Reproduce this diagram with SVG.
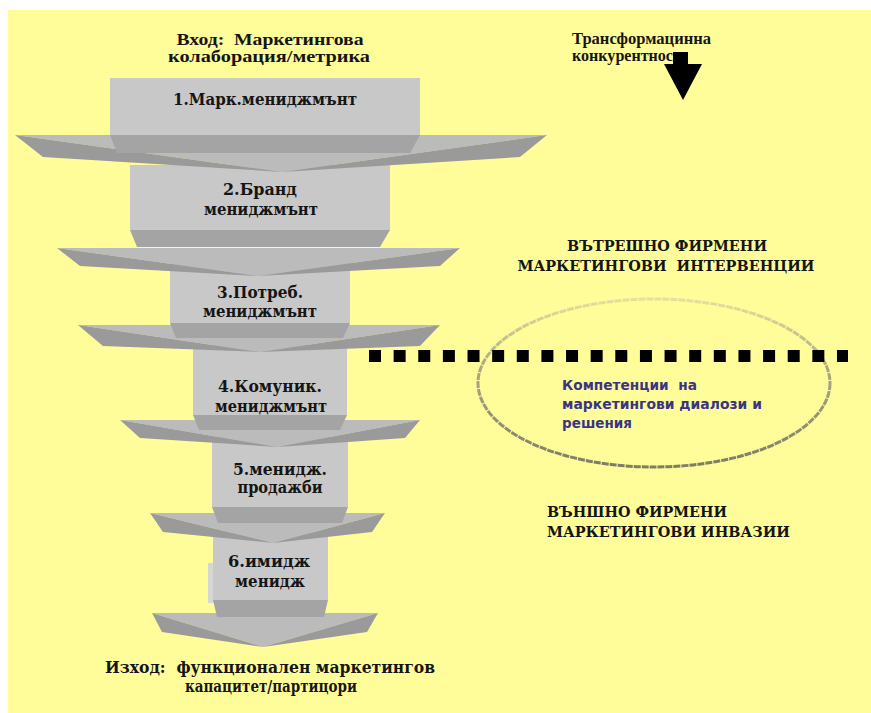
<svg xmlns="http://www.w3.org/2000/svg" width="871" height="713" viewBox="0 0 871 713">
<defs>
<style>
.box{fill:#C8C8C8}
.bev{fill:#A4A4A4}
.top{fill:#BBBBBB}
.front{fill:#9A9A9A}
.sliv{fill:#D6D6D6}
text{white-space:pre}
.lbl{font-family:"DejaVu Serif","Liberation Serif",serif;font-weight:bold;font-size:16px;fill:#151515;text-anchor:middle}
.io{font-family:"Liberation Serif","Times New Roman",serif;font-weight:bold;font-size:16px;fill:#151515;text-anchor:middle}
.zone{font-family:"DejaVu Serif","Liberation Serif",serif;font-weight:bold;font-size:15px;fill:#151515}
.comp{font-family:"DejaVu Sans","Liberation Sans",sans-serif;font-weight:bold;font-size:13.5px;fill:#3B3386}
</style>
<linearGradient id="ellg" x1="0" y1="0" x2="0" y2="1">
<stop offset="0" stop-color="#E6E09C"/>
<stop offset="0.4" stop-color="#ADA987"/>
<stop offset="1" stop-color="#7E7B66"/>
</linearGradient>
</defs>
<rect x="0" y="0" width="871" height="713" fill="#FFFFFF"/>
<rect x="8" y="10" width="863" height="703" fill="#FFFD99"/>

<g id="level6">
<polygon class="top" points="152,613 378,613 263,647"/>
<polygon class="front" points="152,613 162,632 263,647"/>
<polygon class="front" points="378,613 367,632 263,647"/>
<rect class="sliv" x="208" y="563" width="6" height="40"/>
<rect class="box" x="213" y="533" width="115" height="67"/>
<polygon class="bev" points="213,600 328,600 324,617 217,617"/>
<text class="lbl" x="269" y="567" textLength="82" lengthAdjust="spacingAndGlyphs">6.имидж</text>
<text class="lbl" x="270" y="587" textLength="70" lengthAdjust="spacingAndGlyphs">менидж</text>
</g>

<g id="level5">
<polygon class="top" points="150,513 385,513 273,543"/>
<polygon class="front" points="150,513 163,532 273,543"/>
<polygon class="front" points="385,513 372,532 273,543"/>
<rect class="box" x="212" y="437" width="136" height="70"/>
<polygon class="bev" points="212,507 348,507 342,523 218,523"/>
<text class="lbl" x="280" y="475" textLength="94" lengthAdjust="spacingAndGlyphs">5.менидж.</text>
<text class="lbl" x="280" y="493" textLength="85" lengthAdjust="spacingAndGlyphs">продажби</text>
</g>

<g id="level4">
<polygon class="top" points="120,420 420,420 277,447"/>
<polygon class="front" points="120,420 140,438 277,447"/>
<polygon class="front" points="420,420 405,438 277,447"/>
<rect class="box" x="193" y="345" width="154" height="70"/>
<polygon class="bev" points="193,415 347,415 340,430 199,430"/>
<text class="lbl" x="270" y="392" textLength="104" lengthAdjust="spacingAndGlyphs">4.Комуник.</text>
<text class="lbl" x="271" y="412" textLength="112" lengthAdjust="spacingAndGlyphs">мениджмънт</text>
</g>

<g id="level3">
<polygon class="top" points="78,325 440,325 260,352"/>
<polygon class="front" points="78,325 103,346 260,352"/>
<polygon class="front" points="440,325 420,346 260,352"/>
<rect class="box" x="170" y="262" width="180" height="61"/>
<polygon class="bev" points="170,323 350,323 343,338 176,338"/>
<text class="lbl" x="260" y="298" textLength="86" lengthAdjust="spacingAndGlyphs">3.Потреб.</text>
<text class="lbl" x="260" y="317" textLength="114" lengthAdjust="spacingAndGlyphs">мениджмънт</text>
</g>

<g id="level2">
<polygon class="top" points="57,248 460,248 258,276"/>
<polygon class="front" points="57,248 80,266 258,276"/>
<polygon class="front" points="460,248 440,266 258,276"/>
<rect class="box" x="130" y="165" width="260" height="65"/>
<polygon class="bev" points="130,230 390,230 380,247 137,247"/>
<text class="lbl" x="260" y="195" textLength="74" lengthAdjust="spacingAndGlyphs">2.Бранд</text>
<text class="lbl" x="261" y="215" textLength="114" lengthAdjust="spacingAndGlyphs">мениджмънт</text>
</g>

<g id="level1">
<polygon class="top" points="15,135 547,135 282,172"/>
<polygon class="front" points="15,135 43,157 282,172"/>
<polygon class="front" points="547,135 520,157 282,172"/>
<rect class="box" x="110" y="78" width="310" height="57"/>
<polygon class="bev" points="110,135 420,135 410,153 117,153"/>
<text class="lbl" x="265" y="105" textLength="184" lengthAdjust="spacingAndGlyphs">1.Марк.мениджмънт</text>
</g>

<g id="input">
<text class="io" x="270" y="45" textLength="187" lengthAdjust="spacingAndGlyphs" xml:space="preserve">Вход:  Маркетингова</text>
<text class="io" x="269" y="62" textLength="202" lengthAdjust="spacingAndGlyphs">колаборация/метрика</text>
</g>

<g id="output">
<text class="lbl" x="270" y="673" textLength="330" lengthAdjust="spacingAndGlyphs" xml:space="preserve">Изход:  функционален маркетингов</text>
<text class="lbl" x="271" y="692" textLength="172" lengthAdjust="spacingAndGlyphs">капацитет/партицори</text>
</g>

<g id="transformation">
<text class="io" x="572" y="44" style="text-anchor:start" textLength="139" lengthAdjust="spacingAndGlyphs">Трансформацинна</text>
<text class="io" x="572" y="61" style="text-anchor:start" textLength="101" lengthAdjust="spacingAndGlyphs">конкурентнос</text>
</g>

<g id="internal">
<text class="zone" x="667" y="251" style="text-anchor:middle" textLength="200" lengthAdjust="spacingAndGlyphs">ВЪТРЕШНО ФИРМЕНИ</text>
<text class="zone" x="666" y="271" style="text-anchor:middle" textLength="297" lengthAdjust="spacingAndGlyphs" xml:space="preserve">МАРКЕТИНГОВИ  ИНТЕРВЕНЦИИ</text>
</g>

<g id="external">
<text class="zone" x="547" y="517" textLength="180" lengthAdjust="spacingAndGlyphs">ВЪНШНО ФИРМЕНИ</text>
<text class="zone" x="547" y="537" textLength="243" lengthAdjust="spacingAndGlyphs">МАРКЕТИНГОВИ ИНВАЗИИ</text>
</g>

<g id="competences">
<ellipse cx="654" cy="383" rx="176" ry="84" fill="none" stroke="url(#ellg)" stroke-width="3" stroke-dasharray="7 1"/>
<text class="comp" x="562" y="390" textLength="135" lengthAdjust="spacingAndGlyphs" xml:space="preserve">Компетенции  на</text>
<text class="comp" x="562" y="409" textLength="200" lengthAdjust="spacingAndGlyphs">маркетингови диалози и</text>
<text class="comp" x="562" y="428" textLength="70" lengthAdjust="spacingAndGlyphs">решения</text>
</g>

<g id="connectors">
<line x1="369" y1="356" x2="848" y2="356" stroke="#000000" stroke-width="12" stroke-dasharray="12 12.63"/>
<polygon points="673,52 688,52 688,64 702,64 683,100 664,64 673,64" fill="#000000"/>
</g>
</svg>
